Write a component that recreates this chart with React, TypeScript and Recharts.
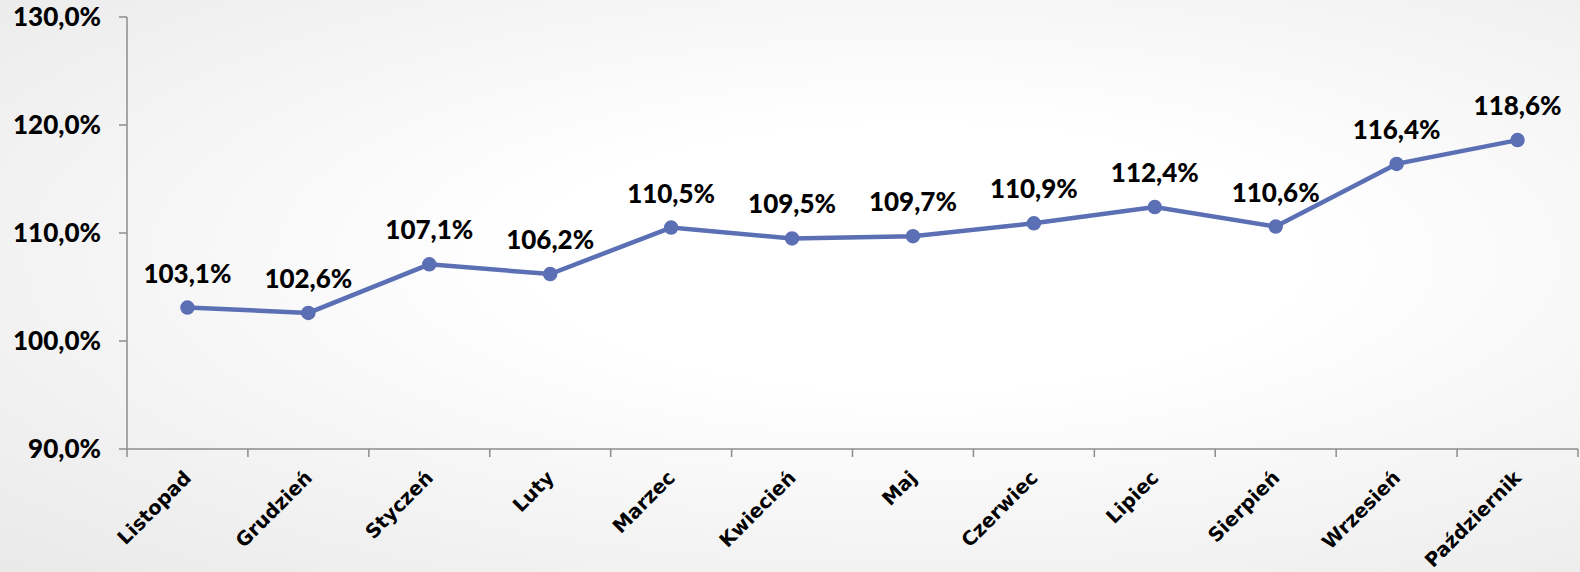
import React from 'react';
import { LineChart, Line, XAxis, YAxis, LabelList } from 'recharts';

const months = [
  'Listopad', 'Grudzień', 'Styczeń', 'Luty', 'Marzec', 'Kwiecień',
  'Maj', 'Czerwiec', 'Lipiec', 'Sierpień', 'Wrzesień', 'Październik',
];
const values = [103.1, 102.6, 107.1, 106.2, 110.5, 109.5, 109.7, 110.9, 112.4, 110.6, 116.4, 118.6];
const yTicks = [90, 100, 110, 120, 130];

const W = 1580;
const H = 572;
const TOP = 17;
const X_AXIS_H = 123;
const AXIS_Y = H - X_AXIS_H;
const LINE_COLOR = '#5b6fb4';
const AXIS_COLOR = '#8c8c8c';
const FONT = 'Lato, "Liberation Sans", sans-serif';

const data = months.map((name, i) => ({ name, pos: i + 0.5, value: values[i] }));

// ticks at band edges (integers) and labels at band centers (halves)
const xTicks: number[] = [];
for (let i = 0; i <= months.length * 2; i++) xTicks.push(i / 2);

const pct = (v: number) => v.toFixed(1).replace('.', ',') + '%';

const XTick = (props: any) => {
  const { x, payload } = props;
  const v = payload.value as number;
  if (Number.isInteger(v)) {
    return <line x1={x} x2={x} y1={AXIS_Y} y2={AXIS_Y + 8} stroke={AXIS_COLOR} strokeWidth={1.5} />;
  }
  const label = months[Math.floor(v)];
  const ax = x + 5;
  const ay = AXIS_Y + 30;
  return (
    <text
      x={ax}
      y={ay}
      transform={`rotate(-45, ${ax}, ${ay})`}
      textAnchor="end"
      fontFamily='"DejaVu Sans", sans-serif'
      fontWeight="bold"
      fontSize={19.5}
      fill="#000"
    >
      {label}
    </text>
  );
};

const ValueLabel = (props: any) => {
  const { x, y, value } = props;
  return (
    <text x={x} y={y - 25} textAnchor="middle" fontFamily={FONT} fontWeight={900} fontSize={26} fill="#000">
      {pct(value)}
    </text>
  );
};

export default function App() {
  return (
    <div
      style={{
        position: 'absolute',
        top: 0,
        left: 0,
        width: W,
        height: H,
        background: 'radial-gradient(ellipse at 58% 45%, #ffffff 30%, #e9e9e9 100%)',
      }}
    >
      <LineChart width={W} height={H} data={data} margin={{ top: TOP, right: 2, left: 0, bottom: 0 }}>
        <XAxis
          dataKey="pos"
          type="number"
          domain={[0, months.length]}
          ticks={xTicks}
          interval={0}
          tickLine={false}
          tick={<XTick />}
          height={X_AXIS_H}
          stroke={AXIS_COLOR}
          strokeWidth={1.5}
        />
        <YAxis
          type="number"
          domain={[90, 130]}
          ticks={yTicks}
          interval={0}
          width={127}
          tickSize={8}
          tickMargin={18}
          tickFormatter={pct}
          stroke={AXIS_COLOR}
          strokeWidth={1.5}
          tick={{ fill: '#000', fontSize: 26, fontWeight: 900, fontFamily: FONT }}
        />
        <Line
          dataKey="value"
          stroke={LINE_COLOR}
          strokeWidth={4.5}
          dot={{ r: 6.5, fill: LINE_COLOR, stroke: LINE_COLOR, strokeWidth: 1.5 }}
          isAnimationActive={false}
        >
          <LabelList dataKey="value" content={<ValueLabel />} />
        </Line>
      </LineChart>
    </div>
  );
}
